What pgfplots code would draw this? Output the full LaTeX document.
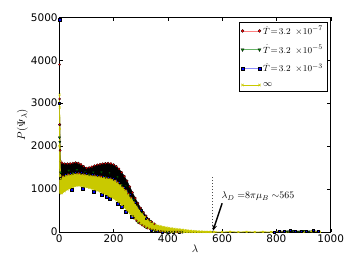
\documentclass[border=0pt]{standalone}
\usepackage{pgfplots}
\pgfplotsset{compat=1.18}
\usepackage{pgfplotstable}
\usepackage{fontspec}
\setmainfont{DejaVu Sans}
\usetikzlibrary{arrows.meta}
\definecolor{myyellow}{rgb}{0.79,0.79,0}
\definecolor{mygreen}{rgb}{0,0.5,0}
\pgfplotsset{
  bothmarks legend/.style={legend image code/.code={\draw[##1] plot coordinates {(0bp,0bp) (17bp,0bp)};}},
}
\pgfplotstableread{
lam r g b y
0.5 2500 2200 nan 2000
1 3900 3500 3000 3200
1.5 3100 2700 2500 2900
2 2500 2100 2000 2400
3 1900 1700 1500 1650
4 1650 1450 1250 1300
5 1260 1384 870 1240
10 1610 1295 1315 900
15 1298 1407 915 1278
20 1590 1320 1340 950
25 1320 1416 960 1300
30 1590 1340 1360 990
35 1338 1428 995 1318
40 1595 1355 1375 1020
45 1350 1438 1025 1330
50 1605 1365 1385 1050
55 1358 1447 1050 1338
60 1615 1370 1390 1070
65 1360 1448 1065 1340
70 1605 1370 1390 1080
75 1358 1439 1068 1338
80 1575 1365 1385 1075
85 1350 1419 1058 1330
90 1530 1355 1375 1060
95 1340 1396 1042 1320
100 1490 1345 1365 1045
105 1330 1384 1028 1310
110 1500 1335 1355 1030
115 1322 1385 1010 1302
120 1520 1330 1350 1010
125 1315 1390 990 1295
130 1545 1320 1340 990
135 1306 1394 968 1286
140 1565 1312 1332 965
145 1298 1396 942 1278
150 1580 1303 1323 940
155 1286 1394 915 1266
160 1590 1290 1310 910
165 1275 1391 885 1255
170 1600 1280 1300 880
175 1262 1386 852 1242
180 1605 1265 1285 845
185 1248 1377 820 1228
190 1595 1252 1272 815
195 1231 1359 788 1211
200 1570 1230 1250 780
205 1202 1329 750 1182
210 1530 1195 1215 740
215 1160 1284 705 1140
220 1470 1145 1165 690
225 1108 1225 650 1088
230 1390 1090 1110 630
235 1048 1155 590 1028
240 1300 1025 1045 570
245 975 1071 525 955
250 1190 945 965 500
255 890 971 458 870
260 1055 855 875 435
265 798 862 392 778
270 920 350 780 370
275 320 753 328 685
280 790 285 690 305
285 260 646 265 590
290 670 225 590 245
295 205 545 210 498
300 560 175 505 195
305 160 455 165 418
310 460 135 410 155
315 123 376 128 348
320 375 100 325 120
325 91 308 96 288
330 300 72 72 92
335 67 250 72 238
340 240 52 52 72
345 49 205 54 198
350 190 35 35 55
355 33 23 38 168
360 27 22 22 42
365 22 12 27 148
370 17 12 12 32
375 13 3 18 132
380 9 4 4 24
385 5 0 10 118
390 2 0 0 17
395 0 0 0 104
400 0 0 0 12
405 0 0 0 93
410 0 0 0 8
415 0 0 0 84
420 0 0 0 5
425 0 0 0 76
430 0 0 0 3
435 0 0 0 68
440 0 0 0 2
445 0 0 0 60
450 0 0 0 1
455 0 0 0 50
}\datatable
\begin{document}
\begin{tikzpicture}
\useasboundingbox (-59.3bp,-38bp) rectangle (299.7bp,232bp);
\begin{axis}[
  at={(0,0)}, anchor=south west, scale only axis,
  width=271.4bp, height=214.7bp,
  xmin=0, xmax=1000, ymin=0, ymax=5000,
  xtick={0,200,...,1000}, ytick={0,1000,...,5000},
  tick align=inside, major tick length=3.5bp,
  tick style={black, line width=0.4pt},
  axis line style={black, line width=0.5pt},
  /pgf/number format/1000 sep={},
  /pgf/number format/assume math mode=true,
  ticklabel style={font=\fontsize{10.5}{12}\selectfont},
  xticklabel style={inner sep=0pt, yshift=-2.5bp},
  yticklabel style={inner sep=0pt, xshift=-1.5bp},
  xlabel={$\lambda$}, ylabel={$P(\Psi_\lambda)$},
  label style={font=\fontsize{11}{13}\selectfont},
  xlabel style={at={(axis description cs:0.5,-0.0768)}, anchor=center},
  ylabel style={at={(axis description cs:-0.1356,0.5)}, anchor=center},
  legend style={at={(axis description cs:0.986,0.978)}, anchor=north east,
    draw=black, line width=0.4pt, font=\fontsize{9.5}{10.5}\selectfont,
    row sep=5bp, inner sep=1.8bp},
  legend cell align=left,
]
\addlegendimage{bothmarks legend, color=red!50, line width=0.5pt, mark=*, mark size=1.5bp, mark options={fill=red, draw=black, line width=0.25pt}}
\addlegendentry{$\dot{T}\!=\!3.2\;\times\!10^{-7}$}
\addlegendimage{bothmarks legend, color=mygreen!60, line width=0.5pt, mark=triangle*, mark size=1.8bp, mark options={rotate=180, fill=mygreen, draw=black, line width=0.25pt}}
\addlegendentry{$\dot{T}\!=\!3.2\;\times\!10^{-5}$}
\addlegendimage{bothmarks legend, color=blue!45, line width=0.5pt, mark=square*, mark size=1.5bp, mark options={fill=blue, draw=black, line width=0.25pt}}
\addlegendentry{$\dot{T}\!=\!3.2\;\times\!10^{-3}$}
\addlegendimage{bothmarks legend, color=myyellow, line width=0.5pt, mark=x, mark size=1.7bp}
\addlegendentry{$\infty$}

% dark band formed by the dense black-edged markers of the finite-rate runs
\addplot[forget plot, fill=black, draw=black, line width=0.3pt, line join=round] coordinates {
(1,3900)(1.5,3100)(2,2500)(3,1900)(4,1650)(5,1600)(10,1610)(20,1590)(30,1590)(40,1595)(50,1605)(60,1615)(70,1605)(80,1575)(90,1530)(100,1490)(110,1500)(120,1520)(130,1545)(140,1565)(150,1580)(160,1590)(170,1600)(180,1605)(190,1595)(200,1570)(210,1530)(220,1470)(230,1390)(240,1300)(250,1190)(260,1055)(270,920)(280,790)(290,670)(300,560)(310,460)(320,375)(330,300)(340,240)(350,190)(360,150)(370,115)(380,85)(390,65)(400,50)(410,38)(420,28)(430,20)(440,14)(450,10)(460,6)(470,3)(480,0)
(400,0)(390,2)(380,9)(370,17)(360,27)(350,40)(340,57)(330,77)(320,105)(310,140)(300,180)(290,230)(280,290)(270,500)(260,800)(250,875)(240,955)(230,1020)(220,1075)(210,1125)(200,1160)(190,1182)(180,1195)(170,1210)(160,1220)(150,1233)(140,1242)(130,1250)(120,1260)(110,1265)(100,1275)(90,1285)(80,1295)(70,1300)(60,1300)(50,1295)(40,1285)(30,1270)(20,1250)(10,1225)(5,1200)(4,1250)(1,1250)} -- cycle;

\addplot[forget plot, color=black, line width=0.4pt, line join=round, mark=*, mark size=1.15bp, mark options={fill=red, draw=black, line width=0.25pt}] table[x=lam, y=r] {\datatable};
\addplot[forget plot, color=black, line width=0.4pt, line join=round, mark=triangle*, mark repeat=3, mark size=1.4bp, mark options={rotate=180, fill=mygreen, draw=black, line width=0.25pt}] table[x=lam, y=g] {\datatable};
\addplot[forget plot, color=blue!55, line width=0.3pt, line join=round, mark=square*, mark repeat=4, mark size=1.0bp, mark options={fill=blue, draw=black, line width=0.2pt}] table[x=lam, y=b] {\datatable};
\addplot[forget plot, only marks, mark=square*, mark size=1.5bp, mark options={fill=blue, draw=black, line width=0.15pt}] coordinates {
(0.5,4950)(45,985)(85,1018)(125,950)(155,875)(175,815)(185,780)(215,665)(230,590)(245,485)(265,370)};

% yellow band of the quench-free run
\addplot[forget plot, fill=myyellow, draw=myyellow, line width=0.5pt, line join=round] coordinates {
(0.5,2000)(1,3200)(1.5,2900)(2,2400)(3,1650)(4,1300)(5,1240)(10,1265)(20,1290)(30,1310)(40,1325)(50,1335)(60,1340)(70,1340)(80,1335)(90,1325)(100,1315)(110,1305)(120,1300)(130,1290)(140,1282)(150,1273)(160,1260)(170,1250)(180,1235)(190,1222)(200,1200)(210,1165)(220,1115)(230,1060)(240,995)(250,915)(260,825)(270,730)(280,640)(290,540)(300,455)(310,380)(320,315)(330,260)(340,215)(350,180)(360,155)(370,140)(380,125)(390,110)(400,98)(410,88)(420,80)(430,72)(440,64)(450,55)(460,46)(470,38)(480,30)(490,24)(500,19)(520,11)(540,6)(560,3)(580,1)
(580,0)(450,0)(440,2)(430,3)(420,5)(410,8)(400,12)(390,17)(380,24)(370,32)(360,42)(350,55)(340,72)(330,92)(320,120)(310,155)(300,195)(290,245)(280,305)(270,370)(260,435)(250,500)(240,570)(230,630)(220,690)(210,740)(200,780)(190,815)(180,845)(170,880)(160,910)(150,940)(140,965)(130,990)(120,1010)(110,1030)(100,1045)(90,1060)(80,1075)(70,1080)(60,1070)(50,1050)(40,1020)(30,990)(20,950)(10,900)(5,880)(3,900)(0.5,900)} -- cycle;
\addplot[forget plot, color=myyellow, line width=0.5pt, line join=round, mark=x, mark size=1.3bp] table[x=lam, y=y] {\datatable};
\addplot[forget plot, color=myyellow, line width=0.8pt, line join=round, mark=x, mark size=1.2bp] coordinates {
(455,50)(460,0)(465,42)(470,0)(475,34)(480,0)(485,27)(490,0)(495,21)(500,0)(505,17)(510,0)(515,13)(520,0)(525,10)(530,0)(535,7)(540,0)(545,5)(550,0)(555,3)(560,0)(570,2)(600,0)(630,6)(660,0)(690,5)(720,0)(750,4)(780,0)(810,15)(840,5)(870,20)(900,5)(930,15)(960,5)};
\addplot[forget plot, color=blue!40!black, line width=0.5pt, mark=square*, mark size=1.0bp, mark options={fill=blue, draw=black, line width=0.25pt}] coordinates {
(790,5)(810,30)(830,12)(850,35)(870,10)(890,30)(910,15)(935,35)(955,15)};
\addplot[forget plot, color=black!80!green, line width=0.5pt, mark=triangle*, mark size=1.2bp, mark options={rotate=180, fill=mygreen, draw=black, line width=0.25pt}] coordinates {
(840,10)(860,25)(880,8)(900,28)(920,10)};

\addplot[forget plot, black!70, line width=0.4pt, dash pattern=on 1.5pt off 1.5pt] coordinates {(565,0) (565,1310)};
\draw[-{Stealth[length=6bp,width=4.5bp]}, line width=1.4bp] (axis cs:600,670) -- (axis cs:566,25);
\node[anchor=west, font=\fontsize{10}{12}\selectfont, inner sep=0pt] at (axis cs:597,830) {$\lambda_D\;{=}8\pi\mu_B\;{\sim}565$};
\end{axis}
\end{tikzpicture}
\end{document}
